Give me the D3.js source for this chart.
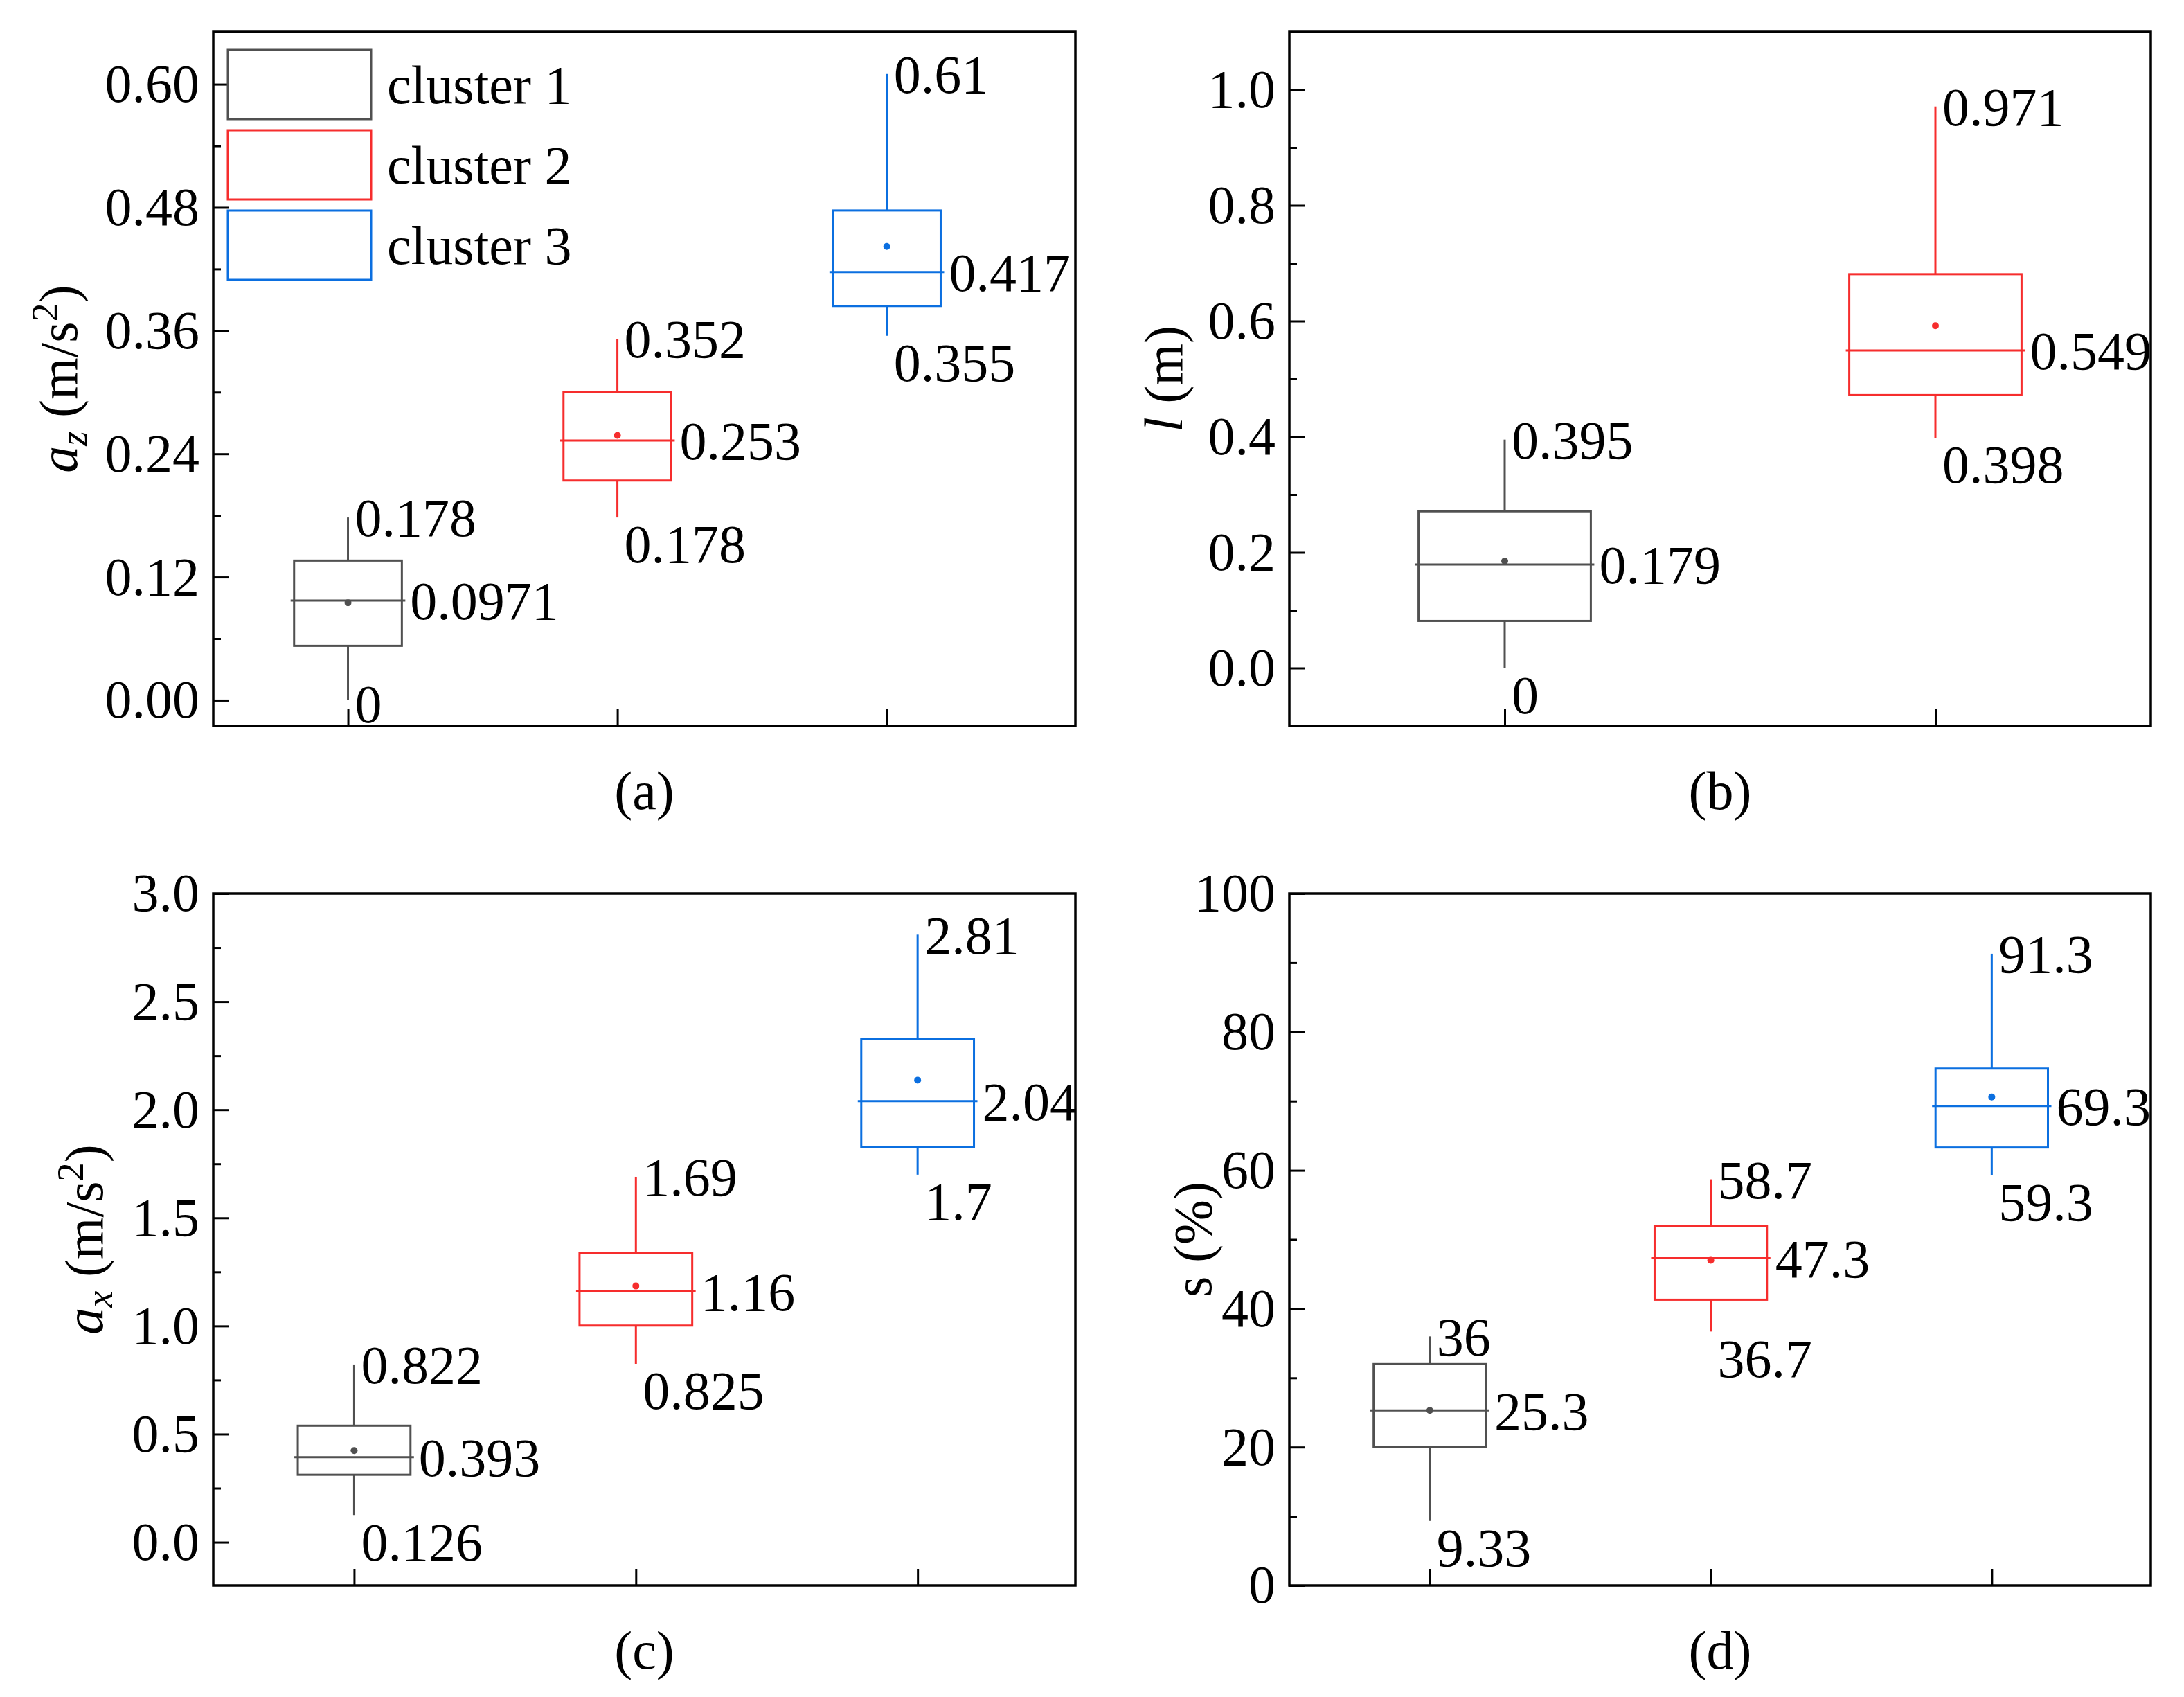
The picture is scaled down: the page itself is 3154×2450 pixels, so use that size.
<!DOCTYPE html>
<html>
<head>
<meta charset="utf-8">
<script src="https://cdn.jsdelivr.net/npm/d3@7"></script>
<style>
  html, body { margin: 0; padding: 0; background: #fff; }
  svg { display: block; }
  text { font-family: "Liberation Serif", "DejaVu Serif", serif; fill: #000; }
</style>
</head>
<body>
<svg id="chart" width="3154" height="2450"></svg>
<script>
// ---------------- DATA ----------------
const categories = ["cluster 1", "cluster 2", "cluster 3"];

// (a) a_z (m/s^2)
const azMin    = [0, 0.178, 0.355];
const azQ1     = [0.053, 0.214, 0.384];
const azMedian = [0.0971, 0.253, 0.417];
const azMean   = [0.095, 0.258, 0.442];
const azQ3     = [0.136, 0.300, 0.477];
const azMax    = [0.178, 0.352, 0.61];
const azTicks  = [0, 0.12, 0.24, 0.36, 0.48, 0.60];

// (b) l (m)
const lMin    = [0, 0.398];
const lQ1     = [0.0815, 0.472];
const lMedian = [0.179, 0.549];
const lMean   = [0.185, 0.592];
const lQ3     = [0.271, 0.681];
const lMax    = [0.395, 0.971];
const lTicks  = [0, 0.2, 0.4, 0.6, 0.8, 1.0];

// (c) a_x (m/s^2)
const axMin    = [0.126, 0.825, 1.7];
const axQ1     = [0.312, 1.002, 1.829];
const axMedian = [0.393, 1.16, 2.04];
const axMean   = [0.424, 1.185, 2.137];
const axQ3     = [0.539, 1.339, 2.327];
const axMax    = [0.822, 1.69, 2.81];
const axTicks  = [0, 0.5, 1.0, 1.5, 2.0, 2.5, 3.0];

// (d) s (%)
const sMin    = [9.33, 36.7, 59.3];
const sQ1     = [20, 41.3, 63.3];
const sMedian = [25.3, 47.3, 69.3];
const sMean   = [25.3, 47.0, 70.6];
const sQ3     = [32, 52.0, 74.7];
const sMax    = [36, 58.7, 91.3];
const sTicks  = [0, 20, 40, 60, 80, 100];

// ---------------- STYLE / LAYOUT ----------------
const colors = ["#505050", "#f62d2d", "#0b6fe0"];
const FS = 78;

const panels = [
  { caption: "(a)", x0: 308, x1: 1553, y0: 46, y1: 1048,
    xDomain: [0.5, 3.7], yDomain: [-0.025, 0.651],
    n: 3, min: azMin, q1: azQ1, med: azMedian, mean: azMean, q3: azQ3, max: azMax,
    ticks: azTicks, minorStep: 0.06, fmt: d3.format(".2f"),
    title: "az", titleX: 84, legend: true },
  { caption: "(b)", x0: 1862, x1: 3106, y0: 46, y1: 1048,
    xDomain: [0.5, 2.5], yDomain: [-0.1, 1.1],
    n: 2, min: lMin, q1: lQ1, med: lMedian, mean: lMean, q3: lQ3, max: lMax,
    ticks: lTicks, minorStep: 0.1, fmt: d3.format(".1f"),
    title: "l", titleX: 1680, legend: false },
  { caption: "(c)", x0: 308, x1: 1553, y0: 1290, y1: 2289,
    xDomain: [0.5, 3.56], yDomain: [-0.2, 3.0],
    n: 3, min: axMin, q1: axQ1, med: axMedian, mean: axMean, q3: axQ3, max: axMax,
    ticks: axTicks, minorStep: 0.25, fmt: d3.format(".1f"),
    title: "ax", titleX: 121, legend: false },
  { caption: "(d)", x0: 1862, x1: 3106, y0: 1290, y1: 2289,
    xDomain: [0.5, 3.566], yDomain: [0, 100],
    n: 3, min: sMin, q1: sQ1, med: sMedian, mean: sMean, q3: sQ3, max: sMax,
    ticks: sTicks, minorStep: 10, fmt: d3.format("d"),
    title: "s", titleX: 1722, legend: false }
];

const svg = d3.select("#chart");

panels.forEach(p => {
  const g = svg.append("g");
  const x = d3.scaleLinear().domain(p.xDomain).range([p.x0, p.x1]);
  const y = d3.scaleLinear().domain(p.yDomain).range([p.y1, p.y0]);
  const bw = x(1.2) - x(1.0); // half box width (box width 0.4 units)

  // minor ticks
  const minor = [];
  const lo = p.yDomain[0], hi = p.yDomain[1];
  for (let v = Math.ceil(lo / p.minorStep - 1e-9) * p.minorStep; v <= hi + 1e-9; v += p.minorStep) {
    if (!p.ticks.some(t => Math.abs(t - v) < 1e-9)) minor.push(v);
  }
  g.append("g")
    .attr("transform", `translate(${p.x0},0)`)
    .call(d3.axisLeft(y).tickValues(minor).tickSizeInner(-11).tickSizeOuter(0).tickFormat(""))
    .call(a => a.select(".domain").remove())
    .call(a => a.selectAll("line").attr("stroke", "#000").attr("stroke-width", 3));

  // major ticks + labels
  g.append("g")
    .attr("transform", `translate(${p.x0},0)`)
    .call(d3.axisLeft(y).tickValues(p.ticks).tickSizeInner(-22).tickSizeOuter(0).tickPadding(20).tickFormat(p.fmt))
    .call(a => a.select(".domain").remove())
    .call(a => a.selectAll("line").attr("stroke", "#000").attr("stroke-width", 3))
    .call(a => a.selectAll("text").attr("font-size", FS).attr("font-family", "Liberation Serif").attr("fill", "#000"));

  // x ticks at category positions
  const cats = d3.range(1, p.n + 1);
  g.append("g")
    .attr("transform", `translate(0,${p.y1})`)
    .call(d3.axisBottom(x).tickValues(cats).tickSizeInner(-24).tickSizeOuter(0).tickFormat(""))
    .call(a => a.select(".domain").remove())
    .call(a => a.selectAll("line").attr("stroke", "#000").attr("stroke-width", 3));

  // frame
  g.append("rect")
    .attr("x", p.x0).attr("y", p.y0)
    .attr("width", p.x1 - p.x0).attr("height", p.y1 - p.y0)
    .attr("fill", "none").attr("stroke", "#000").attr("stroke-width", 3.5);

  // boxes
  for (let i = 0; i < p.n; i++) {
    const cx = x(i + 1), c = colors[i];
    const bg = g.append("g").attr("stroke", c).attr("stroke-width", 3).attr("fill", "none");
    bg.append("line").attr("x1", cx).attr("x2", cx).attr("y1", y(p.max[i])).attr("y2", y(p.q3[i]));
    bg.append("line").attr("x1", cx).attr("x2", cx).attr("y1", y(p.q1[i])).attr("y2", y(p.min[i]));
    bg.append("rect").attr("x", cx - bw).attr("y", y(p.q3[i]))
      .attr("width", 2 * bw).attr("height", y(p.q1[i]) - y(p.q3[i]));
    bg.append("line").attr("x1", cx - bw - 5).attr("x2", cx + bw + 5)
      .attr("y1", y(p.med[i])).attr("y2", y(p.med[i]));
    g.append("circle").attr("cx", cx).attr("cy", y(p.mean[i])).attr("r", 5).attr("fill", c);

    // value labels
    g.append("text").attr("x", cx + 10).attr("y", y(p.max[i])).attr("dy", "0.35em")
      .attr("font-size", FS).text(String(p.max[i]));
    g.append("text").attr("x", cx + bw + 12).attr("y", y(p.med[i])).attr("dy", "0.35em")
      .attr("font-size", FS).text(String(p.med[i]));
    const minY = Math.min(y(p.min[i]) + 38, p.y1 - 0.42 * FS);
    g.append("text").attr("x", cx + 10).attr("y", minY).attr("dy", "0.35em")
      .attr("font-size", FS).text(String(p.min[i]));
  }

  // caption
  g.append("text").attr("x", (p.x0 + p.x1) / 2).attr("y", p.y1 + 120)
    .attr("text-anchor", "middle").attr("font-size", FS).text(p.caption);

  // y title
  const cy = (p.y0 + p.y1) / 2;
  const t = g.append("text")
    .attr("transform", `translate(${p.titleX},${cy}) rotate(-90)`)
    .attr("text-anchor", "middle").attr("dy", "0.35em").attr("font-size", FS);
  if (p.title === "az" || p.title === "ax") {
    t.append("tspan").attr("font-style", "italic").text("a");
    t.append("tspan").attr("font-style", "italic").attr("font-size", FS * 0.7).attr("dy", 14)
      .text(p.title === "az" ? "z" : "x");
    t.append("tspan").attr("dy", -14).text(" (m/s");
    t.append("tspan").attr("font-size", FS * 0.7).attr("dy", -28).text("2");
    t.append("tspan").attr("dy", 28).text(")");
  } else if (p.title === "l") {
    t.append("tspan").attr("font-style", "italic").text("l");
    t.append("tspan").text(" (m)");
  } else {
    t.append("tspan").text("s (%)");
  }

  // legend
  if (p.legend) {
    categories.forEach((name, i) => {
      const ly = 72 + i * 116;
      g.append("rect").attr("x", 329).attr("y", ly).attr("width", 207).attr("height", 100)
        .attr("fill", "none").attr("stroke", colors[i]).attr("stroke-width", 3);
      g.append("text").attr("x", 559).attr("y", ly + 50).attr("dy", "0.35em")
        .attr("font-size", FS).text(name);
    });
  }
});
</script>
</body>
</html>
